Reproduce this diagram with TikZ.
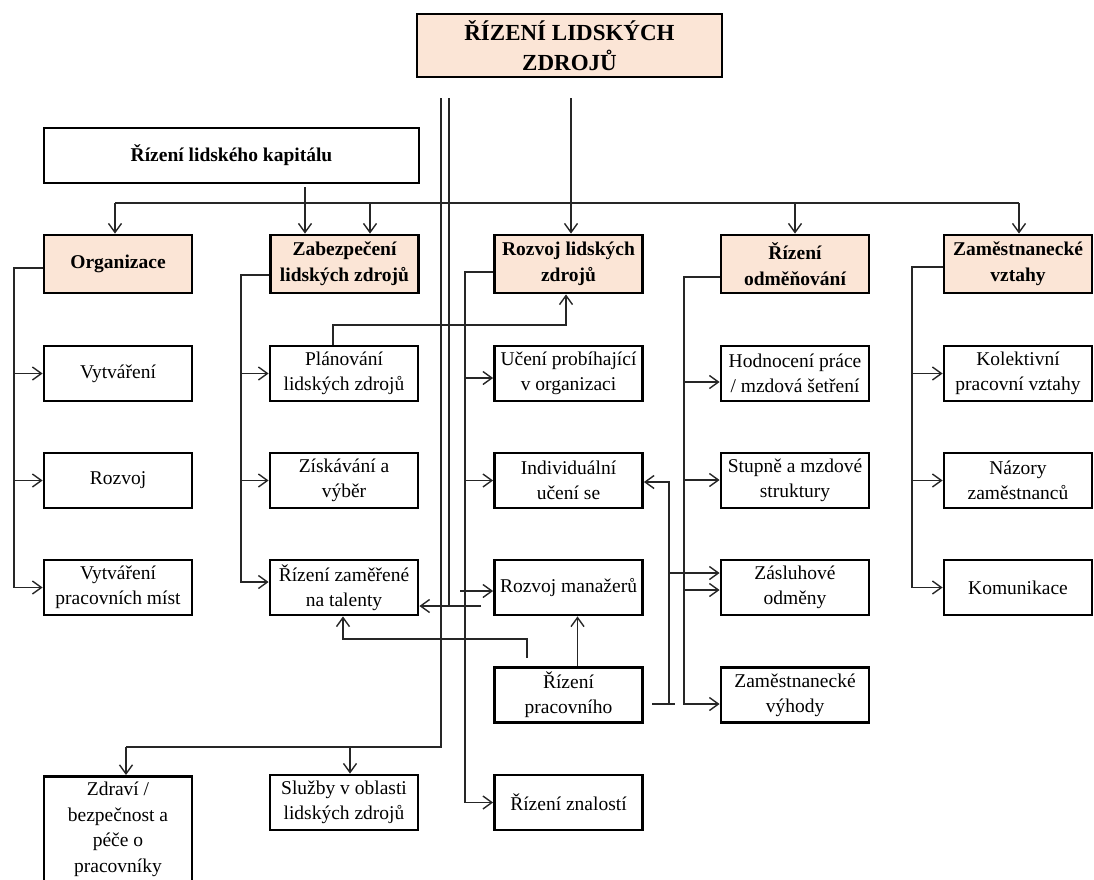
\documentclass[tikz,border=0pt]{standalone}
\usepackage{fontspec}
\setmainfont{Liberation Serif}
\usetikzlibrary{arrows.meta}
\definecolor{peach}{HTML}{FBE5D6}
\begin{document}
\begin{tikzpicture}[x=1pt,y=-1pt,
 box/.style={draw=black, line width=2.8pt, minimum width=148pt, minimum height=55pt, align=center, inner sep=2pt, font=\fontsize{19.5}{25}\selectfont},
 hbox/.style={box, fill=peach, minimum height=58pt, font=\fontsize{19.5}{26}\selectfont\bfseries},
 ln/.style={line width=1.4pt, draw=black!85},
 arr/.style={ln, -{Straight Barb[length=9pt,width=13pt,line width=1.4pt]}}]
\useasboundingbox (0,0) rectangle (1094,879);

% nodes
\node[box, fill=peach, minimum width=305pt, minimum height=63pt, font=\fontsize{23}{30}\selectfont\bfseries] (top) at (569.5,45.5) {ŘÍZENÍ LIDSKÝCH\\ZDROJŮ};
\node[box, minimum width=375pt, font=\fontsize{19.5}{25}\selectfont\bfseries] (hc) at (231.5,155.5) {Řízení lidského kapitálu};

\node[hbox] (org) at (118,264) {Organizace};
\node[hbox] (zab) at (344.5,264) {Zabezpečení\\lidských zdrojů};
\node[hbox] (rlz) at (568.5,264) {Rozvoj lidských\\zdrojů};
\node[hbox] (odm) at (795,264) {Řízení\\odměňování};
\node[hbox] (vzt) at (1018,264) {Zaměstnanecké\\vztahy};

\node[box] (vyt) at (118,373.5) {Vytváření};
\node[box] (roz) at (118,480.5) {Rozvoj};
\node[box] (vpm) at (118,587.5) {Vytváření\\pracovních míst};
\node[box, anchor=north, minimum height=106pt, font=\fontsize{19.5}{25.5}\selectfont] (zdr) at (118,775) {Zdraví /\\bezpečnost a\\péče o\\pracovníky};

\node[box] (pla) at (344,373.5) {Plánování\\lidských zdrojů};
\node[box] (zis) at (344,480.5) {Získávání a\\výběr};
\node[box] (tal) at (344,587.5) {Řízení zaměřené\\na talenty};
\node[box] (slu) at (344,802.5) {Služby v oblasti\\lidských zdrojů};

\node[box] (uce) at (568.5,373.5) {Učení probíhající\\v organizaci};
\node[box] (ind) at (568.5,480.5) {Individuální\\učení se};
\node[box] (rm) at (568.5,587.5) {Rozvoj manažerů};
\node[box] (rp) at (568.5,695) {Řízení\\pracovního};
\node[box] (rzn) at (568.5,802.5) {Řízení znalostí};

\node[box] (hod) at (795,373.5) {Hodnocení práce\\/ mzdová šetření};
\node[box] (stu) at (795,480.5) {Stupně a mzdové\\struktury};
\node[box] (zas) at (795,587.5) {Zásluhové\\odměny};
\node[box] (zv) at (795,695) {Zaměstnanecké\\výhody};

\node[box] (kol) at (1018,373.5) {Kolektivní\\pracovní vztahy};
\node[box] (naz) at (1018,480.5) {Názory\\zaměstnanců};
\node[box] (kom) at (1018,587.5) {Komunikace};

% lines from the top
\coordinate (d1) at (441,98);
\coordinate (d2) at (449,98);
\coordinate (s1) at (571,98);
\draw[arr] (s1) -- (s1 |- rlz.north);

% bus
\coordinate (b1) at (115,203);
\coordinate (b2) at (1019,203);
\coordinate (b3) at (370,203);
\coordinate (b4) at (795,203);
\coordinate (h1) at (305,0);
\draw[ln] (b1) -- (b2);
\draw[arr] (b1) -- (b1 |- org.north);
\draw[arr] (b3) -- (b3 |- zab.north);
\draw[arr] (b4) -- (b4 |- odm.north);
\draw[arr] (b2) -- (b2 |- vzt.north);
\draw[arr] ([yshift=-3pt]hc.south -| h1) -- (zab.north -| h1);

% first double line
\coordinate (c1) at (441,747);
\coordinate (z1) at (126,747);
\coordinate (z2) at (350,747);
\draw[ln] (d1) -- (c1) -- (z1);
\draw[arr] (z1) -- (z1 |- zdr.north);
\draw[arr] (z2) -- (z2 |- slu.north);

% second double line
\coordinate (c2) at (449,606);
\coordinate (c3) at (481,606);
\draw[ln] (d2) -- (c2);
\draw[arr] (c3) -- (c3 -| tal.east);

% Organizace
\coordinate (o1) at (14,268);
\draw[arr] (org.west |- o1) -- (o1) -- (o1 |- vpm.west) -- (vpm.west);
\draw[arr] (o1 |- vyt.west) -- (vyt.west);
\draw[arr] (o1 |- roz.west) -- (roz.west);

% Zabezpeceni
\coordinate (a1) at (241,275);
\coordinate (a2) at (241,582);
\draw[arr] (zab.west |- a1) -- (a1) -- (a2) -- (a2 -| tal.west);
\draw[arr] (a1 |- pla.west) -- (pla.west);
\draw[arr] (a1 |- zis.west) -- (zis.west);

% Rozvoj lidskych zdroju
\coordinate (r1) at (465,272);
\coordinate (r3) at (465,378);
\coordinate (r4) at (460,591);
\draw[arr] (rlz.west |- r1) -- (r1) -- (r1 |- rzn.west) -- (rzn.west);
\draw[arr] (r3) -- (r3 -| uce.west);
\draw[arr] (r1 |- ind.west) -- (ind.west);
\draw[arr] (r4) -- (r4 -| rm.west);

% Planovani -> Rozvoj lidskych zdroju
\coordinate (p1) at (333,325);
\coordinate (p2) at (566,325);
\draw[arr] (pla.north -| p1) -- (p1) -- (p2) -- (p2 |- rlz.south);

% Rizeni pracovniho -> talenty
\coordinate (q0) at (527,658);
\coordinate (q1) at (527,639);
\coordinate (q2) at (343,639);
\draw[arr] (q0) -- (q1) -- (q2) -- (q2 |- tal.south);

% Rizeni pracovniho -> Rozvoj manazeru
\draw[arr] ([xshift=9pt]rp.north) -- ([xshift=9pt]rm.south);

% Rizeni pracovniho right T
\coordinate (t1) at (652,704);
\coordinate (t2) at (675,704);
\coordinate (t3) at (669,704);
\coordinate (t4) at (669,482);
\coordinate (t5) at (669,573);
\draw[ln] (t1) -- (t2);
\draw[arr] (t3) -- (t4) -- (t4 -| ind.east);
\draw[arr] (t5) -- (t5 -| zas.west);

% Odmenovani
\coordinate (m1) at (684,277);
\coordinate (m2) at (684,704);
\coordinate (m3) at (684,382);
\coordinate (m4) at (684,480);
\coordinate (m5) at (684,590);
\draw[arr] (odm.west |- m1) -- (m1) -- (m2) -- (m2 -| zv.west);
\draw[arr] (m3) -- (m3 -| hod.west);
\draw[arr] (m4) -- (m4 -| stu.west);
\draw[arr] (m5) -- (m5 -| zas.west);

% Vztahy
\coordinate (v1) at (912,267);
\draw[arr] (vzt.west |- v1) -- (v1) -- (v1 |- kom.west) -- (kom.west);
\draw[arr] (v1 |- kol.west) -- (kol.west);
\draw[arr] (v1 |- naz.west) -- (naz.west);
\end{tikzpicture}
\end{document}
